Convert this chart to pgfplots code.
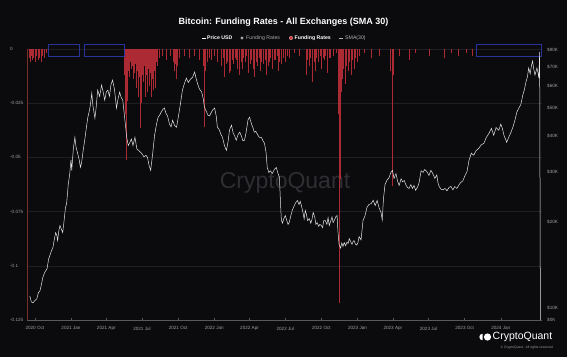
\documentclass[border=0pt]{standalone}
\usepackage{pgfplots}
\pgfplotsset{compat=1.18}
\usepackage{fontspec}
\setmainfont{Liberation Sans}
\definecolor{bg}{HTML}{0B0B0D}
\definecolor{tickc}{HTML}{A0A0A0}
\definecolor{gridc}{HTML}{1F1F23}
\definecolor{fr}{HTML}{C8303A}
\definecolor{frdark}{HTML}{7A2E28}
\definecolor{boxc}{HTML}{2A3399}
\definecolor{pricec}{HTML}{E6E6E6}
\definecolor{wm}{HTML}{2E2E33}
\definecolor{axc}{HTML}{5A5A5E}

\begin{document}
\begin{tikzpicture}[x=1pt,y=1pt]
\fill[bg] (0,0) rectangle (567,357);
% title and legend
\node[text=white, font=\fontsize{9}{10}\selectfont\bfseries] at (283.5,335) {Bitcoin: Funding Rates - All Exchanges (SMA 30)};
\draw[white, line width=0.6pt] (202,319) -- (205.5,319);
\node[anchor=west, inner sep=0pt, text=white, font=\fontsize{5.2}{6}\selectfont\bfseries] at (207,319) {Price USD};
\fill[gray!70] (242,319) circle (1.6pt);
\node[anchor=west, inner sep=0pt, text=gray!70, font=\fontsize{5.2}{6}\selectfont] at (246,319) {Funding Rates};
\fill[fr!60] (291,319) circle (2pt);
\fill[fr] (291,319) circle (1.4pt);
\node[anchor=west, inner sep=0pt, text=white, font=\fontsize{5.2}{6}\selectfont\bfseries] at (294.5,319) {Funding Rates};
\draw[gray!60, line width=0.6pt] (339,319) -- (342.5,319);
\node[anchor=west, inner sep=0pt, text=gray!60, font=\fontsize{5.2}{6}\selectfont] at (345,319) {SMA(30)};
% watermark
\node[text=wm, font=\fontsize{23}{24}\selectfont] at (285,174) {CryptoQuant};
% logo
\fill[white] (487.5,20) circle (3.6pt);
\fill[white] (482.5,20) ++(0,3.2) arc (90:270:3.2) -- cycle;
\node[anchor=west, inner sep=0pt, text=white, font=\fontsize{10.5}{11}\selectfont] at (492.5,20.5) {CryptoQuant};
\node[anchor=east, inner sep=0pt, text=gray!80, font=\fontsize{3.4}{4}\selectfont] at (553,9) {© CryptoQuant. All rights reserved};

\begin{axis}[
  at={(27pt,37pt)}, anchor=south west,
  width=515pt, height=271pt, scale only axis,
  xmin=-20, xmax=1292, ymin=-0.125, ymax=0,
  clip=false,
  axis x line*=bottom, axis y line*=left,
  x axis line style={draw=axc, line width=0.5pt},
  y axis line style={draw=none},
  ymajorgrids, grid style={gridc, line width=0.5pt},
  ytick={-0.125,-0.1,-0.075,-0.05,-0.025,0},
  yticklabels={-0.125,-0.1,-0.075,-0.05,-0.025,0},
  xtick={0,92,182,273,365,457,547,638,730,822,912,1003,1095,1187},
  xticklabels={2020 Oct,2021 Jan,2021 Apr,2021 Jul,2021 Oct,2022 Jan,2022 Apr,2022 Jul,2022 Oct,2023 Jan,2023 Apr,2023 Jul,2023 Oct,2024 Jan},
  /pgf/number format/assume math mode=true,
  ytick style={draw=none},
  xtick style={draw=axc, line width=0.4pt},
  major tick length=2pt, tick align=inside,
  yticklabel style={font=\fontsize{4.6}{5}\selectfont, text=tickc, anchor=west, inner sep=0pt, xshift=-17pt},
  xticklabel style={font=\fontsize{4.6}{5}\selectfont, text=tickc, anchor=north, inner sep=0pt, yshift=-6.5pt},
]
\addplot[ycomb, frdark, line width=1.2pt] coordinates {(-18,-0.125)};
\addplot[ycomb, fr, line width=0.65pt, opacity=0.85] coordinates {
(-15,-0.004) (-12,-0.006) (-9,-0.003) (-6,-0.005) (-3,-0.004) (1,-0.006) (4,-0.003) (8,-0.005) (12,-0.004) (16,-0.006) (20,-0.003) (24,-0.004) (28,-0.002)
(229,-0.012) (231,-0.030) (234,-0.051) (236,-0.024) (238,-0.010) (241,-0.013) (244,-0.006) (246,-0.009) (249,-0.008) (251,-0.014) (254,-0.011) (256,-0.007) (259,-0.018) (261,-0.010) (264,-0.022) (266,-0.013) (269,-0.0365) (272,-0.025) (274,-0.012) (277,-0.015) (280,-0.008) (282,-0.022) (285,-0.012) (287,-0.020) (290,-0.009) (292,-0.017) (295,-0.011) (297,-0.022) (300,-0.014) (302,-0.019) (305,-0.010) (308,-0.018) (310,-0.006) (313,-0.008) (318,-0.004) (325,-0.003) (335,-0.005) (345,-0.003) (352,-0.006) (356,-0.010) (359,-0.007) (361,-0.014) (364,-0.008) (368,-0.004) (380,-0.003) (394,-0.004) (405,-0.003) (420,-0.005) (428,-0.008) (432,-0.036) (435,-0.010) (440,-0.006) (445,-0.004) (450,-0.005) (458,-0.003) (466,-0.006)
(475,-0.008) (479,-0.004) (483,-0.013) (487,-0.007) (491,-0.006) (495,-0.011) (498,-0.010) (502,-0.005) (506,-0.007) (510,-0.004) (513,-0.005) (517,-0.009) (521,-0.012) (525,-0.006) (529,-0.009) (532,-0.004) (536,-0.006) (540,-0.003) (544,-0.011) (548,-0.007) (552,-0.005) (556,-0.009) (559,-0.013) (563,-0.006) (567,-0.008) (571,-0.004) (574,-0.010) (578,-0.006) (582,-0.007) (586,-0.005) (590,-0.012) (594,-0.008) (597,-0.006) (601,-0.004) (605,-0.009) (609,-0.005) (613,-0.005) (617,-0.003) (620,-0.010) (624,-0.006) (628,-0.007) (633,-0.004) (638,-0.006) (643,-0.003) (648,-0.004) (660,-0.002) (675,-0.003)
(691,-0.012) (695,-0.005) (699,-0.008) (703,-0.004) (707,-0.015) (711,-0.006) (714,-0.010) (718,-0.004) (722,-0.006) (726,-0.003) (730,-0.009) (734,-0.004) (737,-0.005) (741,-0.003) (745,-0.011) (749,-0.004) (752,-0.004) (760,-0.003) (768,-0.002) (773,-0.030) (775,-0.117) (777,-0.060) (780,-0.020) (783,-0.014) (787,-0.009) (791,-0.016) (794,-0.008) (798,-0.010) (802,-0.006) (806,-0.012) (810,-0.005) (813,-0.009) (817,-0.004) (821,-0.006) (826,-0.003) (840,-0.002) (857,-0.004) (877,-0.003) (906,-0.010) (910,-0.063) (914,-0.012) (928,-0.003) (953,-0.005) (970,-0.002) (1004,-0.003) (1042,-0.004) (1060,-0.002) (1080,-0.003) (1100,-0.002) (1115,-0.003)
};
\draw[boxc, line width=0.6pt] (axis cs:33,0.0020) rectangle (axis cs:114,-0.0032);
\draw[boxc, line width=0.6pt] (axis cs:125,0.0020) rectangle (axis cs:228,-0.0032);
\draw[boxc, line width=0.6pt] (axis cs:1124,0.0020) rectangle (axis cs:1289,-0.0032);
\end{axis}

\begin{axis}[
  at={(27pt,37pt)}, anchor=south west,
  width=515pt, height=271pt, scale only axis,
  xmin=-20, xmax=1292, ymode=log, ymin=9070, ymax=80600,
  axis y line*=right, axis x line=none,
  y axis line style={draw=none},
  ytick={9070,10000,20000,30000,40000,50000,60000,70000,80000},
  yticklabels={\$0K,\$10K,\$20K,\$30K,\$40K,\$50K,\$60K,\$70K,\$80K},
  /pgf/number format/assume math mode=true,
  ytick style={draw=none}, major tick length=0pt,
  yticklabel style={font=\fontsize{4.6}{5}\selectfont, text=tickc, anchor=west, inner sep=0pt, xshift=5pt},
]
\addplot[pricec, line width=0.5pt] coordinates {
(-13,11020) (-9,10500) (-5,10413) (0,10600) (5,10755) (9,11300) (13,11474) (17,12100) (20,12747) (25,13300) (31,13710) (35,14800) (38,15230) (42,15800) (46,16249) (50,17500) (53,18346) (56,17900) (58,17197) (61,18600) (64,19415) (68,18800) (71,18346) (75,20500) (78,22460) (81,23198) (85,27000) (89,29569) (92,33000) (94,30297) (98,36000) (102,39568) (105,36500) (109,34765) (113,33000) (116,31042) (119,32200) (123,35500) (127,38618) (131,42500) (135,46517) (139,49000) (142,52000) (145,56463) (148,51000) (151,48000) (153,46141) (156,50000) (160,57852) (165,55000) (170,60237) (174,57000) (178,53354) (182,57000) (186,57852) (190,55000) (194,60500) (198,62727) (203,58000) (208,50029) (212,54000) (216,56922) (220,54500) (224,53354) (229,46000) (234,39568) (238,37000) (241,37694) (246,39000) (250,37000) (255,39568) (260,36000) (265,35500) (272,34765) (278,33800) (283,34200) (287,33657) (291,31500) (295,30297) (300,34500) (305,40214) (310,44000) (314,46517) (318,47276) (322,48500) (326,49500) (330,50029) (334,48000) (338,47000) (343,44000) (347,43000) (351,45400) (356,43500) (361,42902) (366,47000) (371,52000) (376,57852) (381,61000) (386,63751) (391,61500) (396,63000) (402,64271) (407,66927) (411,63500) (414,61221) (419,58500) (425,56922) (429,54000) (432,50436) (436,49000) (441,47276) (445,47000) (450,48500) (454,49500) (458,50029) (462,47000) (465,42902) (470,42000) (474,40500) (478,39568) (483,37000) (488,35617) (492,38000) (496,42000) (501,43602) (505,41000) (509,40000) (513,38618) (518,40500) (522,41203) (526,40000) (530,38500) (534,38618) (538,41000) (543,45500) (547,46517) (552,44000) (555,43000) (559,41203) (563,41500) (567,40500) (572,39500) (577,39568) (581,38500) (585,37694) (589,35000) (592,31042) (596,29800) (600,30200) (605,29569) (610,30500) (615,31042) (619,29700) (623,28628) (626,23000) (628,20300) (631,19800) (634,20500) (638,21052) (642,20200) (645,19600) (648,19893) (652,21000) (656,22000) (661,22826) (665,23400) (669,23768) (673,23000) (676,23600) (679,22826) (683,21600) (686,20500) (689,21921) (692,21200) (695,20200) (699,20547) (703,19800) (706,20400) (709,21569) (713,20800) (716,19600) (719,19893) (723,19300) (726,19600) (730,19415) (733,19100) (736,20200) (740,20217) (744,19600) (747,20700) (750,19415) (754,20200) (757,20800) (760,19893) (764,20400) (767,20881) (770,21052) (772,18600) (775,16648) (779,16200) (782,16900) (785,16400) (788,16920) (792,16500) (795,17000) (798,16800) (801,17477) (805,17000) (808,16700) (811,17100) (813,17197) (817,16700) (820,16600) (823,16900) (826,17762) (831,17300) (836,20217) (841,21000) (846,22460) (851,23000) (857,23198) (862,23800) (867,22800) (872,23768) (877,22400) (882,21569) (885,20300) (888,24000) (892,27000) (897,28000) (902,28500) (907,29800) (911,30297) (915,28397) (920,29500) (924,27800) (928,26835) (933,28300) (937,27600) (941,27941) (945,27000) (949,26400) (953,26191) (958,27000) (962,26200) (966,26835) (970,25800) (975,26500) (979,27492) (984,30200) (989,29810) (993,30500) (998,30100) (1004,29095) (1009,30300) (1014,29500) (1019,28397) (1024,29200) (1027,27400) (1030,26618) (1035,26000) (1040,25900) (1045,26191) (1050,25700) (1055,26400) (1060,26618) (1065,25900) (1070,26600) (1075,26191) (1080,26900) (1085,27492) (1090,27800) (1096,29095) (1101,30000) (1106,32850) (1112,34800) (1118,34207) (1124,35500) (1131,36199) (1137,37200) (1144,37694) (1150,39500) (1157,40870) (1163,42500) (1169,40214) (1175,42800) (1182,41872) (1187,44000) (1191,42500) (1195,40214) (1199,39000) (1202,37999) (1207,39500) (1213,41203) (1218,43000) (1223,45400) (1228,48500) (1233,50029) (1238,51500) (1243,55555) (1247,58000) (1251,61719) (1255,64500) (1258,69131) (1262,66000) (1265,70500) (1268,73157) (1271,68500) (1274,65320) (1277,67500) (1279,69131) (1282,66500) (1284,63751) (1286,78706) (1288,8000)
};
\end{axis}
\pgfresetboundingbox
\useasboundingbox (0,0) rectangle (567,357);
\end{tikzpicture}
\end{document}
